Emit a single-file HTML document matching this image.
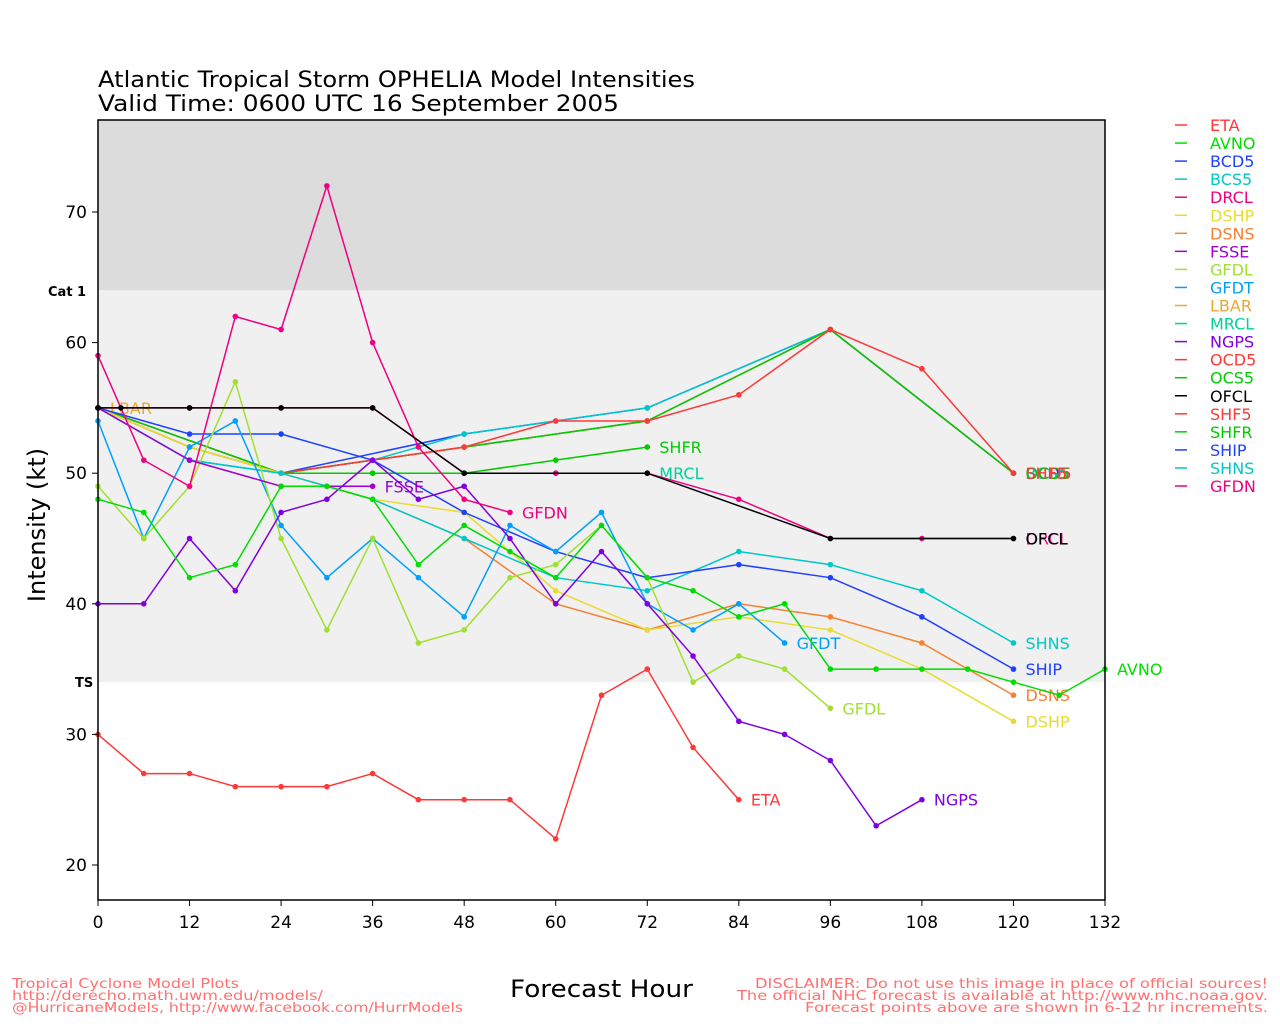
<!DOCTYPE html>
<html><head><meta charset="utf-8"><style>
body{margin:0;background:#fff;}
svg{display:block;font-family:"DejaVu Sans","Liberation Sans",sans-serif;}
</style></head><body>
<svg id="chart" width="1280" height="1024" viewBox="0 0 1280 1024">
<rect x="0" y="0" width="1280" height="1024" fill="#fff"/>
<g id="bands"></g>
<g id="series"></g>
<rect x="98" y="120" width="1007" height="780" fill="none" stroke="#000" stroke-width="1.5"/>
<g id="axes"></g>
<text x="98" y="87" font-size="22" textLength="597" lengthAdjust="spacingAndGlyphs">Atlantic Tropical Storm OPHELIA Model Intensities</text>
<text x="98" y="111" font-size="22" textLength="521" lengthAdjust="spacingAndGlyphs">Valid Time: 0600 UTC 16 September 2005</text>
<text x="45" y="525" font-size="24" transform="rotate(-90 45 525)" text-anchor="middle">Intensity (kt)</text>
<text x="510" y="997" font-size="24" textLength="183" lengthAdjust="spacingAndGlyphs">Forecast Hour</text>
<text x="48" y="296" font-size="13" font-weight="bold">Cat 1</text>
<text x="75" y="687" font-size="13" font-weight="bold">TS</text>
<g fill="#ff7070" font-size="13">
<text x="12" y="988" textLength="227" lengthAdjust="spacingAndGlyphs">Tropical Cyclone Model Plots</text>
<text x="12" y="1000" textLength="311" lengthAdjust="spacingAndGlyphs">http://derecho.math.uwm.edu/models/</text>
<text x="12" y="1012" textLength="451" lengthAdjust="spacingAndGlyphs">@HurricaneModels, http://www.facebook.com/HurrModels</text>
</g>
<g fill="#ff7070" font-size="13">
<text x="755" y="988" textLength="513" lengthAdjust="spacingAndGlyphs">DISCLAIMER: Do not use this image in place of official sources!</text>
<text x="737" y="1000" textLength="531" lengthAdjust="spacingAndGlyphs">The official NHC forecast is available at http://www.nhc.noaa.gov.</text>
<text x="805" y="1012" textLength="463" lengthAdjust="spacingAndGlyphs">Forecast points above are shown in 6-12 hr increments.</text>
</g>
<g id="legend"></g>
</svg>
<script>
const xTicks=[0,12,24,36,48,60,72,84,96,108,120,132];
const yTicks=[20,30,40,50,60,70];
const names=["ETA","AVNO","BCD5","BCS5","DRCL","DSHP","DSNS","FSSE","GFDL","GFDT","LBAR","MRCL","NGPS","OCD5","OCS5","OFCL","SHF5","SHFR","SHIP","SHNS","GFDN"];
const colors=["#ff3838","#00dd00","#2040ff","#00c8c8","#f00080","#e8dc30","#f88030","#a000d0","#a0e030","#00a0ff","#e8a830","#00d09a","#8000e0","#ff3838","#00cc00","#000000","#ff3838","#00cc00","#2040ff","#00c8c8","#f00080"];
const hETA=[0,6,12,18,24,30,36,42,48,54,60,66,72,78,84];
const vETA=[30,27,27,26,26,26,27,25,25,25,22,33,35,29,25];
const hAVNO=[0,6,12,18,24,30,36,42,48,54,60,66,72,78,84,90,96,102,108,114,120,126,132];
const vAVNO=[48,47,42,43,49,49,48,43,46,44,42,46,42,41,39,40,35,35,35,35,34,33,35];
const hBCD5=[0,24,48,72,96,120];
const vBCD5=[55,50,53,55,61,50];
const hBCS5=[0,12,24,36,48,60,72,96,120];
const vBCS5=[55,51,50,51,53,54,55,61,50];
const hDRCL=[0,12,24,36,48,60,72,84,96,108,120];
const vDRCL=[55,55,55,55,50,50,50,48,45,45,45];
const hDSHP=[0,12,24,36,48,60,72,84,96,108,120];
const vDSHP=[55,52,50,48,47,41,38,39,38,35,31];
const hDSNS=[0,12,24,36,48,60,72,84,96,108,120];
const vDSNS=[55,52,50,48,45,40,38,40,39,37,33];
const hFSSE=[0,12,24,30,36];
const vFSSE=[55,51,49,49,49];
const hGFDL=[0,6,12,18,24,30,36,42,48,54,60,66,72,78,84,90,96];
const vGFDL=[49,45,49,57,45,38,45,37,38,42,43,46,42,34,36,35,32];
const hGFDT=[0,6,12,18,24,30,36,42,48,54,60,66,72,78,84,90];
const vGFDT=[54,45,52,54,46,42,45,42,39,46,44,47,40,38,40,37];
const hLBAR=[0];
const vLBAR=[55];
const hMRCL=[0,12,24,36,48,60,72];
const vMRCL=[55,51,50,50,50,50,50];
const hNGPS=[0,6,12,18,24,30,36,42,48,54,60,66,72,78,84,90,96,102,108];
const vNGPS=[40,40,45,41,47,48,51,48,49,45,40,44,40,36,31,30,28,23,25];
const hOCD5=[0,24,48,72,96,120];
const vOCD5=[55,50,52,54,61,50];
const hOCS5=[0,24,48,72,96,120];
const vOCS5=[55,50,52,54,61,50];
const hOFCL=[0,3,12,24,36,48,72,96,120];
const vOFCL=[55,55,55,55,55,50,50,45,45];
const hSHF5=[0,12,24,36,48,60,72,84,96,108,120];
const vSHF5=[55,52,50,51,52,54,54,56,61,58,50];
const hSHFR=[0,12,24,36,48,60,72];
const vSHFR=[55,52,50,50,50,51,52];
const hSHIP=[0,12,24,36,48,60,72,84,96,108,120];
const vSHIP=[55,53,53,51,47,44,42,43,42,39,35];
const hSHNS=[0,12,24,36,48,60,72,84,96,108,120];
const vSHNS=[55,51,50,48,45,42,41,44,43,41,37];
const hGFDN=[0,6,12,18,24,30,36,42,48,54];
const vGFDN=[59,51,49,62,61,72,60,52,48,47];
const hours=[hETA,hAVNO,hBCD5,hBCS5,hDRCL,hDSHP,hDSNS,hFSSE,hGFDL,hGFDT,hLBAR,hMRCL,hNGPS,hOCD5,hOCS5,hOFCL,hSHF5,hSHFR,hSHIP,hSHNS,hGFDN];
const vals=[vETA,vAVNO,vBCD5,vBCS5,vDRCL,vDSHP,vDSNS,vFSSE,vGFDL,vGFDT,vLBAR,vMRCL,vNGPS,vOCD5,vOCS5,vOFCL,vSHF5,vSHFR,vSHIP,vSHNS,vGFDN];
const drawOrder=[10,11,4,2,3,13,14,16,17,6,5,19,18,9,8,7,12,1,0,20,15];

const NS="http://www.w3.org/2000/svg";
const X=h=>98+h*(1007/132);
const Y=v=>865-(v-20)*13.06;
function mk(tag,attrs,parent){const e=document.createElementNS(NS,tag);for(const k in attrs)e.setAttribute(k,attrs[k]);parent.appendChild(e);return e;}

const bands=document.getElementById('bands');
let b1=mk('rect',{x:98,y:120,width:1007,height:Y(64)-120,fill:'#dcdcdc'},bands);


let b2=mk('rect',{x:98,y:Y(64),width:1007,height:Y(34)-Y(64),fill:'#f0f0f0'},bands);



const axes=document.getElementById('axes');
xTicks.forEach(t=>{
  mk('line',{x1:X(t),x2:X(t),y1:900,y2:906,stroke:'#000'},axes);
  const tx=mk('text',{x:X(t),y:928,'font-size':17,'text-anchor':'middle'},axes);
  tx.textContent=t;
  
  
});
yTicks.forEach(t=>{
  mk('line',{x1:92,x2:98,y1:Y(t),y2:Y(t),stroke:'#000'},axes);
  const tx=mk('text',{x:87,y:Y(t)+6,'font-size':17,'text-anchor':'end'},axes);
  tx.textContent=t;
  
  
});

const sg=document.getElementById('series');
drawOrder.forEach(i=>{
  const g=mk('g',{},sg);
  
  
  const hs=hours[i],vs=vals[i];
  const pts=hs.map((h,k)=>X(h)+','+Y(vs[k])).join(' ');
  mk('polyline',{points:pts,fill:'none',stroke:colors[i],'stroke-width':1.5},g);
  hs.forEach((h,k)=>{
    const c=mk('circle',{cx:X(h),cy:Y(vs[k]),r:2.8,fill:colors[i]},g);
    
    
  });
  const last=hs.length-1;
  let lx=X(hs[last])+12, ly=Y(vs[last])+6;
  if(names[i]==="LBAR"){lx=X(hs[0])+12;ly=Y(vs[0])+6;}
  const lt=mk('text',{x:lx,y:ly,'font-size':16,fill:colors[i]},g);
  lt.textContent=names[i];
  
  
});

const lg=document.getElementById('legend');
names.forEach((n,i)=>{
  const y=125+i*18.05;
  const g=mk('g',{},lg);
  
  
  mk('line',{x1:1175,x2:1187,y1:y,y2:y,stroke:colors[i],'stroke-width':1.5},g);
  const t=mk('text',{x:1210,y:y+6,'font-size':16,fill:colors[i]},g);
  t.textContent=n;
});
</script>
</body></html>
